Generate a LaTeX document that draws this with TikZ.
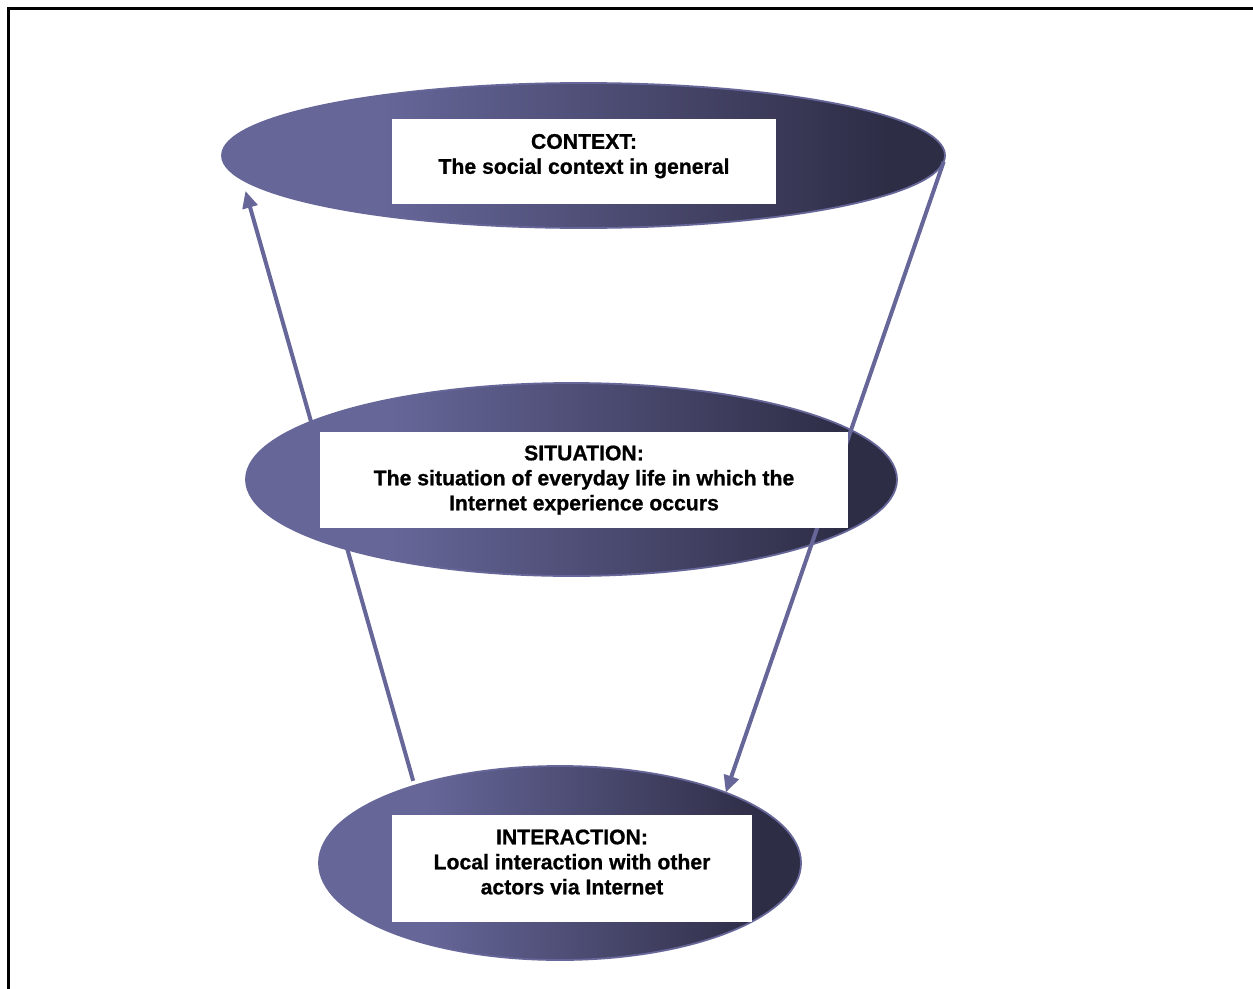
\documentclass[tikz,border=0pt]{standalone}
\usepackage{fontspec}
\setmainfont{Liberation Sans}[BoldFeatures={FakeBold=0.8}]
\usetikzlibrary{arrows.meta,shapes.geometric}
\definecolor{lightpurple}{RGB}{102,102,153}
\definecolor{darkpurple}{RGB}{46,45,70}
\pgfdeclarehorizontalshading{ellshade}{100bp}{color(0bp)=(lightpurple); color(36bp)=(lightpurple); color(71bp)=(darkpurple); color(100bp)=(darkpurple)}
\begin{document}
\begin{tikzpicture}[x=1pt,y=-1pt,
  ell/.style={ellipse, draw=lightpurple, line width=1.8pt, shading=ellshade, inner sep=0pt, outer sep=0pt},
  whitebox/.style={fill=white, inner sep=0pt, outer sep=0pt},
  boxtext/.style={font=\fontsize{21.2}{25}\selectfont\bfseries, align=center, anchor=north, inner sep=0pt, outer sep=0pt},
  conn/.style={draw=lightpurple, line width=4pt},
  tipped/.style={-{Triangle[length=17pt,width=15pt]}}
]
\useasboundingbox (0,0) rectangle (1253,988);
\fill[white] (0,0) rectangle (1253,988);
\begin{scope}
\clip (0,0) rectangle (1253,988);
\draw[line width=3pt] (8,8) rectangle (1275,1010);
\end{scope}

% ellipses
\node[ell, minimum width=723pt, minimum height=145pt] (ctx) at (583.5,155.5) {};
\node[ell, minimum width=482pt, minimum height=194pt] (int) at (560,863) {};

% left arrow (behind the situation ellipse)
\draw[conn, tipped, shorten <=5pt, shorten >=12pt] (int.152) -- (ctx.184);

\node[ell, minimum width=651pt, minimum height=193pt] (sit) at (571.5,479.5) {};

% right arrow (over the situation ellipse, under its box)
\draw[conn, tipped] (ctx.-1.8) -- (int.23);

% white boxes
\node[whitebox, minimum width=384pt, minimum height=85pt] (ctxbox) at (584,161.5) {};
\node[whitebox, minimum width=528pt, minimum height=96pt] (sitbox) at (584,480) {};
\node[whitebox, minimum width=360pt, minimum height=107pt] (intbox) at (572,868.5) {};

% texts
\node[boxtext] (ctxtext) at (584,134) {CONTEXT:\\The social context in general};
\node[boxtext] (sittext) at (584,445.5) {SITUATION:\\The situation of everyday life in which the\\Internet experience occurs};
\node[boxtext] (inttext) at (572,829.5) {INTERACTION:\\Local interaction with other\\actors via Internet};
\end{tikzpicture}
\end{document}
